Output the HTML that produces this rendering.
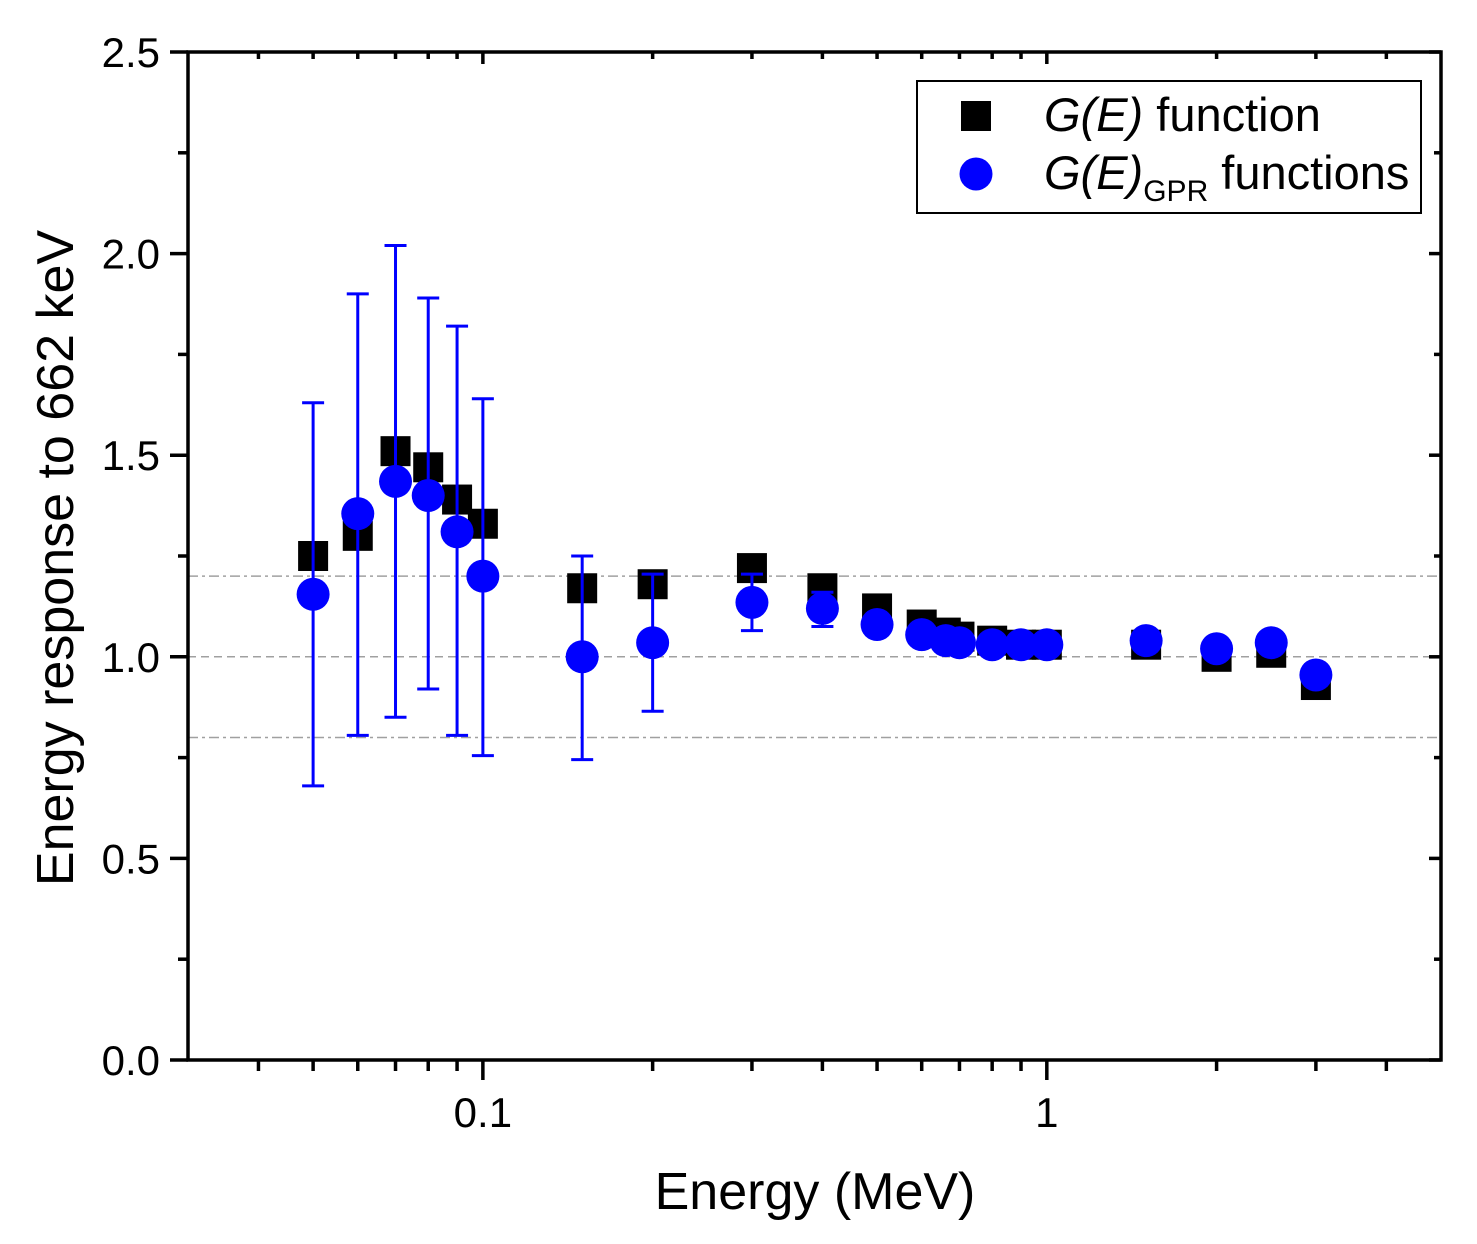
<!DOCTYPE html>
<html><head><meta charset="utf-8"><style>
body{margin:0;background:#fff}
svg text{font-family:"Liberation Sans",Arial,sans-serif}
</style></head><body>
<svg id="chart" width="1477" height="1239" viewBox="0 0 1477 1239" xmlns="http://www.w3.org/2000/svg">
<g id="grid"></g>
<g id="axes"></g>
<g id="series"></g>
<text x="815" y="1209" font-size="52" text-anchor="middle">Energy (MeV)</text>
<text transform="translate(73,558) rotate(-90)" font-size="52" text-anchor="middle">Energy response to 662 keV</text>
<g>
<rect x="917" y="81" width="504" height="132" fill="#fff" stroke="#000" stroke-width="2"/>
<rect x="961" y="101" width="30" height="30" fill="#000"/>
<text x="1044" y="131" font-size="47"><tspan font-style="italic">G(E)</tspan> function</text>
<circle cx="976" cy="174" r="16.5" fill="#0000ff"/>
<text x="1044" y="189" font-size="47"><tspan font-style="italic">G(E)</tspan><tspan font-size="30" dy="12">GPR</tspan><tspan dy="-12"> functions</tspan></text>
</g>
</svg>
<script>
const energies=[0.05,0.06,0.07,0.08,0.09,0.1,0.15,0.2,0.3,0.4,0.5,0.6,0.662,0.7,0.8,0.9,1.0,1.5,2,2.5,3];
const geValues=[1.25,1.30,1.51,1.47,1.39,1.33,1.17,1.18,1.22,1.17,1.12,1.08,1.06,1.05,1.04,1.03,1.03,1.03,1.0,1.01,0.93];
const gprValues=[1.155,1.355,1.435,1.40,1.31,1.20,1.0,1.035,1.135,1.12,1.08,1.055,1.04,1.035,1.03,1.03,1.03,1.04,1.02,1.035,0.955];
const gprLow=[0.68,0.805,0.85,0.92,0.805,0.755,0.745,0.865,1.065,1.075,1.06,1.04,1.03,1.025,1.02,1.02,1.02,1.03,1.01,1.025,0.945];
const gprHigh=[1.63,1.90,2.02,1.89,1.82,1.64,1.25,1.205,1.205,1.16,1.10,1.07,1.05,1.045,1.04,1.04,1.04,1.05,1.03,1.045,0.965];
const yTicks=[0,0.5,1.0,1.5,2.0,2.5];
const yTickLabels=["0.0","0.5","1.0","1.5","2.0","2.5"];
const xTicks=[0.1,1];
const xTickLabels=["0.1","1"];
const xMinor=[0.04,0.05,0.06,0.07,0.08,0.09,0.2,0.3,0.4,0.5,0.6,0.7,0.8,0.9,2,3,4];
const refLines=[0.8,1.0,1.2];
const L=188,R=1441,T=52,B=1060,xmin=0.03,xmax=5,ymin=0,ymax=2.5;
const xs=v=>L+(Math.log10(v)-Math.log10(xmin))/(Math.log10(xmax)-Math.log10(xmin))*(R-L);
const ys=v=>B-(v-ymin)/(ymax-ymin)*(B-T);
const NS="http://www.w3.org/2000/svg";
function mk(tag,attrs,parent){const e=document.createElementNS(NS,tag);for(const k in attrs)e.setAttribute(k,attrs[k]);parent.appendChild(e);return e;}
const grid=document.getElementById('grid'),axes=document.getElementById('axes'),series=document.getElementById('series');
refLines.forEach(v=>{
 const l=mk('line',{x1:L,x2:R,y1:ys(v),y2:ys(v),stroke:'#a0a0a0','stroke-width':1.5,'stroke-dasharray':v===1?'8,5':'10,4,3,4'},grid);
 
 
});
const frame=mk('rect',{x:L,y:T,width:R-L,height:B-T,fill:'none',stroke:'#000','stroke-width':3.5},axes);


yTicks.forEach((v,i)=>{
 const y=ys(v);
 mk('line',{x1:L-18,x2:L,y1:y,y2:y,stroke:'#000','stroke-width':3.5},axes);
 mk('line',{x1:R-12,x2:R,y1:y,y2:y,stroke:'#000','stroke-width':3.5},axes);
 const t=mk('text',{x:L-28,y:y+15,'font-size':42,'text-anchor':'end'},axes);t.textContent=yTickLabels[i];
 
 
 if(i<yTicks.length-1){const ym=ys(v+0.25);
  mk('line',{x1:L-10,x2:L,y1:ym,y2:ym,stroke:'#000','stroke-width':3.5},axes);
  mk('line',{x1:R-7,x2:R,y1:ym,y2:ym,stroke:'#000','stroke-width':3.5},axes);}
});
xTicks.forEach((v,i)=>{
 const x=xs(v);
 mk('line',{x1:x,x2:x,y1:B,y2:B+20,stroke:'#000','stroke-width':3.5},axes);
 mk('line',{x1:x,x2:x,y1:T,y2:T+12,stroke:'#000','stroke-width':3.5},axes);
 const t=mk('text',{x:x,y:B+67,'font-size':42,'text-anchor':'middle'},axes);t.textContent=xTickLabels[i];
 
 
});
xMinor.forEach(v=>{const x=xs(v);
 mk('line',{x1:x,x2:x,y1:B,y2:B+11,stroke:'#000','stroke-width':3.5},axes);
 mk('line',{x1:x,x2:x,y1:T,y2:T+7,stroke:'#000','stroke-width':3.5},axes);});
energies.forEach((e,i)=>{
 const r=mk('rect',{x:xs(e)-15,y:ys(geValues[i])-15,width:30,height:30,fill:'#000'},series);
 
 
});
energies.forEach((e,i)=>{
 const x=xs(e);
 const g=mk('g',{stroke:'#0000ff','stroke-width':3},series);
 
 
 mk('line',{x1:x,x2:x,y1:ys(gprLow[i]),y2:ys(gprHigh[i])},g);
 mk('line',{x1:x-11,x2:x+11,y1:ys(gprLow[i]),y2:ys(gprLow[i])},g);
 mk('line',{x1:x-11,x2:x+11,y1:ys(gprHigh[i]),y2:ys(gprHigh[i])},g);
});
energies.forEach((e,i)=>{
 const c=mk('circle',{cx:xs(e),cy:ys(gprValues[i]),r:16.5,fill:'#0000ff'},series);
 
 
});
</script>
</body></html>
